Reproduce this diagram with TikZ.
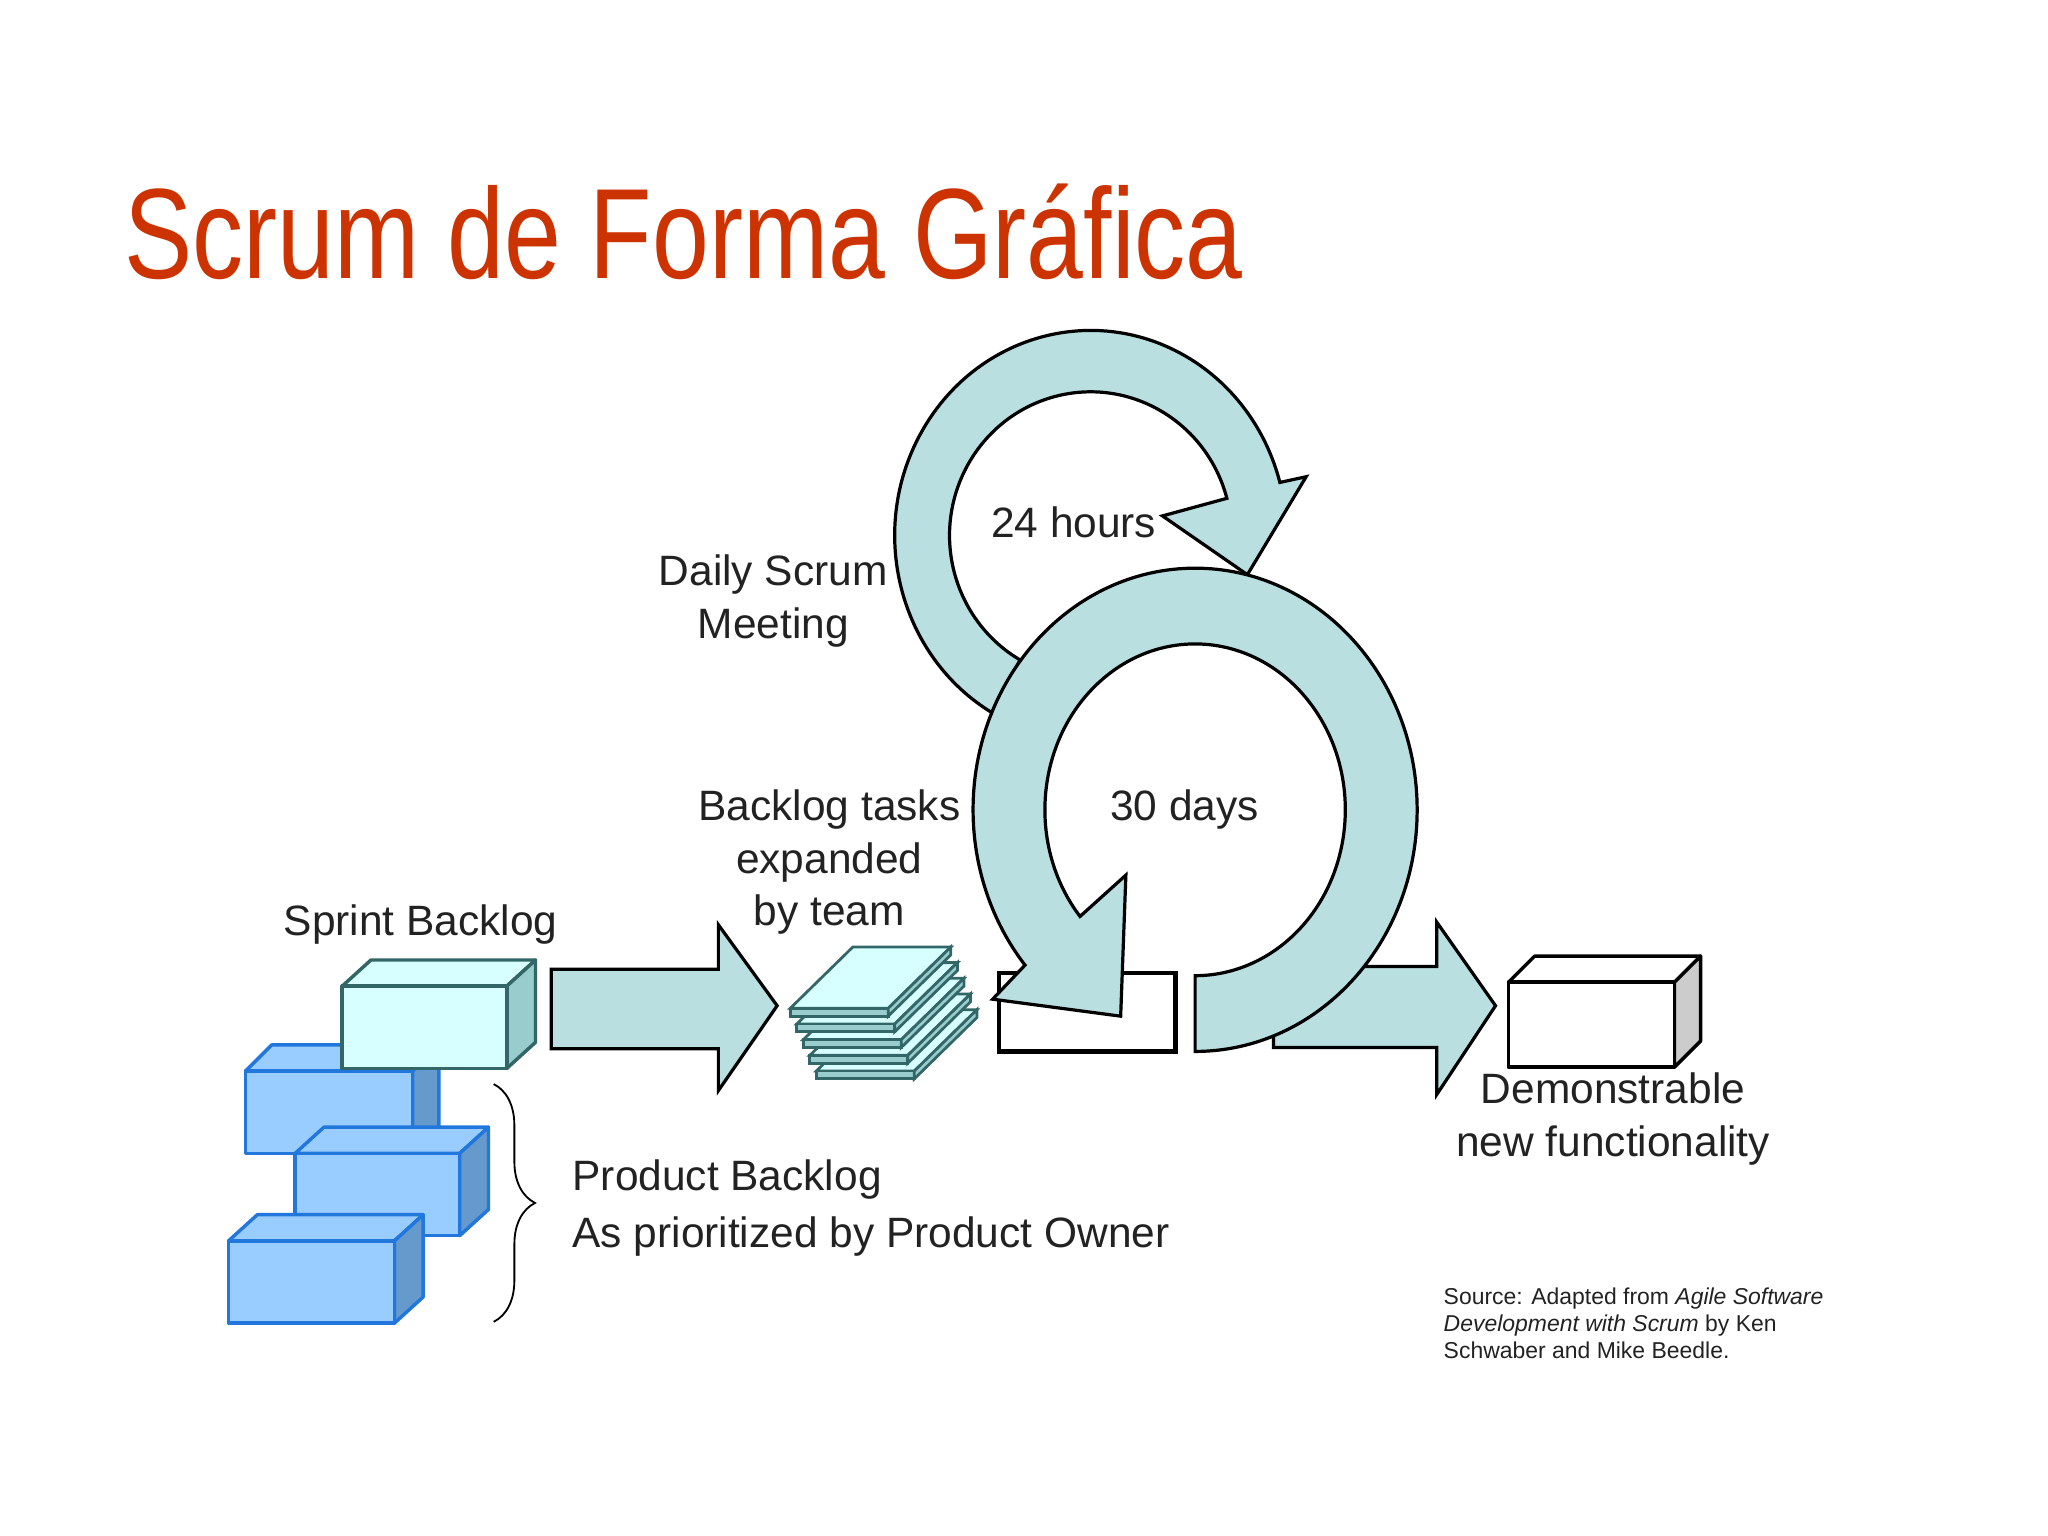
\documentclass[tikz,border=0pt]{standalone}
\usepackage{fontspec}
\setmainfont{Liberation Sans}
\usetikzlibrary{decorations.pathreplacing}
\definecolor{ring}{HTML}{B9DFE0}
\definecolor{titlered}{HTML}{CC3300}
\definecolor{teal}{HTML}{336666}
\definecolor{paleC}{HTML}{D8FFFF}
\definecolor{sideC}{HTML}{99CCCC}
\definecolor{blueF}{HTML}{99CCFF}
\definecolor{blueB}{HTML}{2277DD}
\definecolor{blueS}{HTML}{6699CC}
\definecolor{txt}{HTML}{222222}
\begin{document}
\begin{tikzpicture}[x=0.02cm,y=-0.02cm,
  ln/.style={line width=1.4pt,line join=miter},
  flow/.style={ln,draw=black,fill=ring},
  lbl/.style={font=\fontsize{18.5}{23}\selectfont,text=txt,align=center,inner sep=0pt},
  box/.style={line width=1.5pt,line join=round}]
\useasboundingbox (0,0) rectangle (1568,1176);
\fill[white] (0,0) rectangle (1568,1176);
% title
\node[anchor=base west,inner sep=0pt,text=titlered,font=\fontsize{56}{60}\selectfont,xscale=0.795] (title) at (95,213) {Scrum de Forma Gráfica};

% cubes: x1 y1 x2 y2 dx fill border side
\newcommand{\cube}[8]{%
  \filldraw[box,draw=#7,fill=#6] (#1,#2) -- ++(#5,-20) -- (#3+#5,#2-20) -- (#3,#2) -- cycle;
  \filldraw[box,draw=#7,fill=#8] (#3,#2) -- (#3+#5,#2-20) -- (#3+#5,#4-20) -- (#3,#4) -- cycle;
  \filldraw[box,draw=#7,fill=#6] (#1,#2) rectangle (#3,#4);}
\cube{188}{820}{316}{883}{20}{blueF}{blueB}{blueS}
\cube{262}{755}{388}{818}{22}{paleC}{teal}{sideC}
\cube{226}{883}{352}{946}{22}{blueF}{blueB}{blueS}
\cube{175}{950}{302}{1013}{22}{blueF}{blueB}{blueS}
% output box
\cube{1155}{752}{1282}{817}{20}{white}{black}{black!20}

% arrow sprint -> tasks
\filldraw[flow] (422,742) -- (550,742) -- (550,708) -- (595,770) -- (550,835) -- (550,803) -- (422,803) -- cycle;

% papers
\foreach \i in {4,3,2,1,0}{
  \begin{scope}[shift={(5*\i,12*\i)}]
  \filldraw[line width=1.2pt,draw=teal,fill=paleC] (605,772) -- (680,772) -- (728,725) -- (653,725) -- cycle;
  \filldraw[line width=1.2pt,draw=teal,fill=sideC] (605,772) -- (680,772) -- (680,778) -- (605,778) -- cycle;
  \filldraw[line width=1.2pt,draw=teal,fill=sideC] (680,772) -- (728,725) -- (728,731) -- (680,778) -- cycle;
  \end{scope}}

% output arrow
\filldraw[flow] (975,740) -- (1100,740) -- (1100,706) -- (1145,770) -- (1100,838) -- (1100,802) -- (975,802) -- cycle;
% sprint box
\filldraw[line width=2pt,draw=black,fill=white] (765,745) rectangle (900,805);

% 24 hour ring
\filldraw[flow] (835+150*cos 120,410+157*sin 120)
  arc[start angle=120,end angle=345,x radius=150,y radius=157]
  -- (1000,365) -- (955,440) -- (890,395)
  -- (835+108*cos 345,410+110*sin 345)
  arc[start angle=345,end angle=120,x radius=108,y radius=110] -- cycle;
% 30 day ring
\filldraw[flow] (915,805)
  arc[start angle=90,end angle=-220,x radius=170,y radius=185]
  -- (760,765) -- (858,778) -- (862,670)
  -- (915+115*cos 140,620+127*sin 140)
  arc[start angle=-220,end angle=90,x radius=115,y radius=127] -- cycle;

% brace
\draw[line width=0.8pt,decorate,decoration={brace,amplitude=18}] (378,830) -- (378,1012);

% labels
\node[lbl] (daily) at (592,460) {Daily Scrum\\Meeting};
\node[lbl] (h24) at (822,400) {24 hours};
\node[lbl] (tasks) at (635,660) {Backlog tasks\\expanded\\by team};
\node[lbl] (d30) at (907,620) {30 days};
\node[lbl] (sprint) at (322,708) {Sprint Backlog};
\node[lbl,align=left,anchor=west,font=\fontsize{18.5}{24.6}\selectfont] (pb) at (438,925) {Product Backlog\\As prioritized by Product Owner};
\node[lbl] (demotxt) at (1235,857) {Demonstrable\\new functionality};
\node[lbl,align=left,anchor=north west,font=\fontsize{10}{11.7}\selectfont] (src) at (1105,986) {Source: Adapted from \textit{Agile Software}\\\textit{Development with Scrum} by Ken\\Schwaber and Mike Beedle.};
\end{tikzpicture}
\end{document}
